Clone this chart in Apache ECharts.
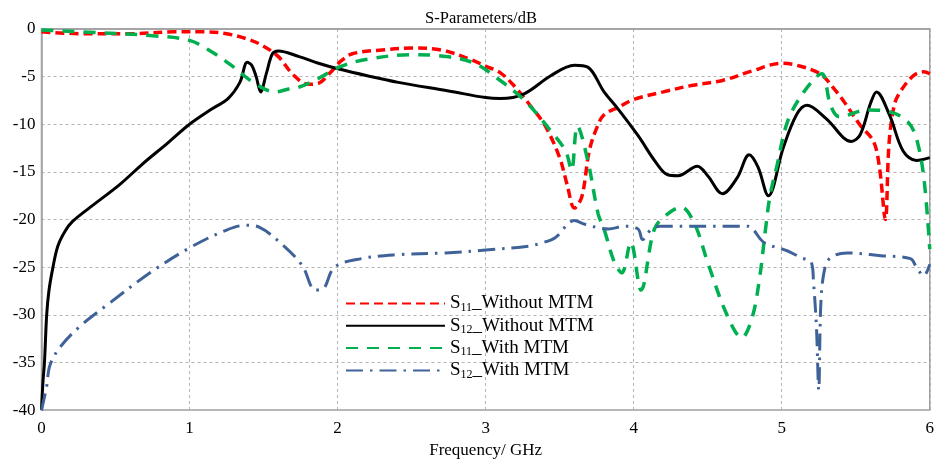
<!DOCTYPE html>
<html>
<head>
<meta charset="utf-8">
<script src="https://cdn.jsdelivr.net/npm/echarts@6/dist/echarts.min.js"></script>
<style>
  html, body { margin: 0; padding: 0; background: #fff; }
  #chart { width: 937px; height: 464px; }
</style>
</head>
<body>
<div id="chart"></div>
<script>
// Frequency axis ticks (GHz) and dB axis ticks
const freqTicks = [0, 1, 2, 3, 4, 5, 6];
const dbTicks = [0, -5, -10, -15, -20, -25, -30, -35, -40];

// S11 without MTM
const s11WithoutFreq = [0, 0.3, 0.6, 0.9, 1.1, 1.25, 1.4, 1.5, 1.6, 1.7, 1.8, 1.87, 1.95, 2.02, 2.1, 2.3, 2.5, 2.7, 2.9, 3.0, 3.1, 3.2, 3.3, 3.4, 3.5, 3.55, 3.6, 3.65, 3.7, 3.75, 3.8, 3.9, 4.0, 4.2, 4.4, 4.6, 4.8, 5.0, 5.1, 5.26, 5.35, 5.42, 5.53, 5.62, 5.66, 5.7, 5.725, 5.76, 5.8, 5.89, 5.96, 6.0];
const s11WithoutDb = [-0.3, -0.5, -0.5, -0.3, -0.3, -0.5, -1.1, -1.8, -2.9, -4.8, -5.8, -5.7, -4.6, -3.4, -2.6, -2.2, -2.0, -2.2, -3.2, -3.9, -4.6, -6.1, -8.0, -10.1, -13.5, -16.3, -18.8, -17.6, -12.8, -10.4, -9.0, -8.2, -7.4, -6.6, -5.9, -5.4, -4.4, -3.6, -3.8, -4.7, -6.2, -7.6, -10.1, -11.8, -14.5, -20.0, -12.0, -8.0, -6.6, -4.9, -4.5, -4.7];

// S12 without MTM
const s12WithoutFreq = [0, 0.01, 0.02, 0.035, 0.05, 0.075, 0.11, 0.16, 0.21, 0.33, 0.53, 0.68, 0.85, 1.0, 1.15, 1.26, 1.34, 1.39, 1.42, 1.45, 1.48, 1.52, 1.56, 1.6, 1.74, 1.87, 2.01, 2.2, 2.41, 2.75, 3.0, 3.1, 3.26, 3.44, 3.6, 3.69, 3.8, 3.89, 4.03, 4.15, 4.23, 4.3, 4.43, 4.5, 4.6, 4.7, 4.78, 4.84, 4.91, 5.01, 5.1, 5.17, 5.3, 5.47, 5.53, 5.6, 5.64, 5.73, 5.82, 5.91, 6.0];
const s12WithoutDb = [-40, -37, -35, -30, -27.5, -25.2, -22.8, -21.2, -20.2, -18.7, -16.3, -14.2, -12.0, -10.0, -8.4, -7.3, -5.6, -3.5, -3.8, -5.0, -6.6, -4.6, -2.6, -2.3, -2.9, -3.6, -4.2, -4.9, -5.6, -6.5, -7.2, -7.3, -6.8, -4.9, -3.8, -4.0, -6.6, -8.3, -11.2, -14.0, -15.3, -15.4, -14.4, -15.4, -17.3, -15.6, -13.2, -14.5, -17.5, -12.5, -9.0, -8.0, -9.4, -11.8, -11.1, -7.8, -6.6, -9.1, -12.8, -13.8, -13.5];

// S11 with MTM
const s11WithFreq = [0, 0.4, 0.75, 1.0, 1.16, 1.29, 1.43, 1.58, 1.67, 1.74, 1.87, 2.01, 2.19, 2.5, 2.68, 2.91, 3.09, 3.27, 3.44, 3.54, 3.58, 3.62, 3.69, 3.76, 3.8, 3.87, 3.92, 3.98, 4.05, 4.14, 4.23, 4.32, 4.41, 4.5, 4.63, 4.73, 4.8, 4.85, 4.89, 4.92, 4.97, 5.04, 5.15, 5.27, 5.33, 5.39, 5.58, 5.73, 5.85, 5.91, 5.96, 6.0];
const s11WithDb = [-0.1, -0.4, -0.7, -1.2, -2.5, -3.9, -5.6, -6.6, -6.3, -6.1, -5.2, -4.0, -3.2, -2.7, -2.8, -3.5, -5.3, -7.6, -10.7, -12.8, -14.8, -10.2, -13.8, -19.4, -21.0, -24.5, -25.6, -22.4, -27.4, -21.0, -19.4, -18.7, -20.4, -24.5, -30.0, -32.4, -30.3, -26.2, -21.1, -17.6, -14.2, -9.7, -6.6, -4.7, -8.0, -9.2, -8.5, -8.7, -9.7, -11.5, -15.6, -23.1];

// S12 with MTM
const s12WithFreq = [0, 0.035, 0.057, 0.125, 0.26, 0.44, 0.75, 1.02, 1.25, 1.38, 1.47, 1.61, 1.76, 1.85, 1.9, 1.98, 2.16, 2.39, 2.73, 3.0, 3.29, 3.37, 3.47, 3.6, 3.67, 3.83, 3.94, 4.03, 4.06, 4.12, 4.18, 4.63, 4.77, 4.88, 5.04, 5.13, 5.2, 5.215, 5.235, 5.25, 5.265, 5.29, 5.33, 5.44, 5.67, 5.87, 5.91, 5.96, 6.0];
const s12WithDb = [-40, -37.5, -35.3, -33.4, -31.2, -29.0, -25.4, -22.8, -21.1, -20.6, -20.8, -22.4, -24.8, -27.4, -27.3, -25.0, -24.1, -23.7, -23.5, -23.2, -22.8, -22.5, -21.9, -20.1, -20.5, -21.0, -20.7, -21.0, -22.1, -21.0, -20.7, -20.7, -20.7, -22.4, -23.3, -24.0, -24.5, -26.6, -31.4, -37.9, -28.6, -25.2, -24.0, -23.5, -23.8, -24.1, -25.0, -25.9, -24.7];

const zip = (xs, ys) => xs.map((x, i) => [x, ys[i]]);

const serifFont = '"Liberation Serif", "Times New Roman", serif';

const chart = echarts.init(document.getElementById('chart'), null, { renderer: 'canvas' });

function makeSeries(name, xs, ys, color, width, dash) {
  return {
    name: name,
    type: 'line',
    data: zip(xs, ys),
    symbol: 'none',
    smooth: 0.35,
    lineStyle: { color: color, width: width, type: dash, cap: 'butt' },
    itemStyle: { color: color },
    z: 3
  };
}

const legendNames = {
  's11without': 'S{sub|11}_Without MTM',
  's12without': 'S{sub|12}_Without MTM',
  's11with': 'S{sub|11}_With MTM',
  's12with': 'S{sub|12}_With MTM'
};

chart.setOption({
  animation: false,
  backgroundColor: '#fff',
  title: {
    text: 'S-Parameters/dB',
    left: 476,
    textAlign: 'center',
    top: 5,
    textStyle: { fontFamily: serifFont, fontSize: 16.5, fontWeight: 'normal', color: '#000' }
  },
  legend: {
    orient: 'vertical',
    left: 345,
    top: 293.5,
    padding: 0,
    itemWidth: 99,
    itemHeight: 14,
    itemGap: 2.3,
    itemTextGap: 6,
    // keep only the line sample in each legend key
    itemStyle: { opacity: 0 },
    data: ['s11without', 's12without', 's11with', 's12with'],
    formatter: (n) => legendNames[n],
    textStyle: {
      fontFamily: serifFont,
      fontSize: 19,
      color: '#000',
      lineHeight: 20,
      rich: {
        sub: { fontFamily: serifFont, fontSize: 12, lineHeight: 7, verticalAlign: 'bottom', color: '#000' }
      }
    }
  },
  grid: {
    left: 41.5,
    right: 4,
    top: 29,
    bottom: 47,
    show: true,
    borderColor: '#a0a0a0',
    borderWidth: 1.5
  },
  xAxis: {
    type: 'value',
    min: freqTicks[0],
    max: freqTicks[freqTicks.length - 1],
    interval: 1,
    name: 'Frequency/ GHz',
    nameLocation: 'middle',
    nameGap: 27,
    nameTextStyle: { fontFamily: serifFont, fontSize: 17, color: '#000' },
    axisLine: { show: true, lineStyle: { color: '#a0a0a0', width: 1.5 } },
    axisTick: { show: false },
    axisLabel: { fontFamily: serifFont, fontSize: 17, color: '#000', margin: 10 },
    splitLine: { show: true, lineStyle: { color: '#b4b4b4', width: 1, type: [3, 3] } }
  },
  yAxis: {
    type: 'value',
    min: dbTicks[dbTicks.length - 1],
    max: dbTicks[0],
    interval: 5,
    axisLine: { show: true, lineStyle: { color: '#a0a0a0', width: 1.5 } },
    axisTick: { show: false },
    axisLabel: { fontFamily: serifFont, fontSize: 17, color: '#000', margin: 6 },
    splitLine: { show: true, lineStyle: { color: '#b4b4b4', width: 1, type: [3, 3] } }
  },
  series: [
    makeSeries('s11without', s11WithoutFreq, s11WithoutDb, '#ff0000', 3.5, [9, 5]),
    makeSeries('s12without', s12WithoutFreq, s12WithoutDb, '#000000', 3, 'solid'),
    makeSeries('s11with', s11WithFreq, s11WithDb, '#00b050', 3.5, [12, 9]),
    makeSeries('s12with', s12WithFreq, s12WithDb, '#3f6398', 3, [17, 7, 2.5, 7])
  ]
});
</script>
</body>
</html>
